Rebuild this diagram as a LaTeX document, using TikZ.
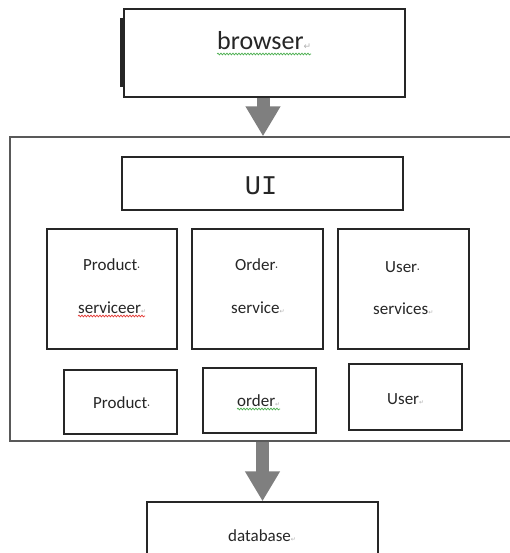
\documentclass[tikz,border=0pt]{standalone}
\usepackage{fontspec}
\setmainfont{Carlito}
\newfontfamily\uifont{Liberation Mono}
\newfontfamily\symfont{DejaVu Sans}
\usetikzlibrary{arrows.meta,decorations.pathmorphing}
\definecolor{arrowgray}{HTML}{7F7F7F}
\definecolor{boxline}{HTML}{262626}
\definecolor{frameline}{HTML}{595959}
\definecolor{markgray}{HTML}{B0B0B0}
\definecolor{wavygreen}{HTML}{4CAF50}
\definecolor{wavyred}{HTML}{E53935}
\newcommand{\pmark}{\textcolor{markgray}{\symfont\fontsize{6}{6}\selectfont ↵}}
\newcommand{\smark}{\textcolor{boxline}{\fontsize{10}{10}\selectfont ·}}
\begin{document}
\begin{tikzpicture}[x=1pt,y=-1pt,
  box/.style={draw=boxline,line width=1.4pt,inner sep=0pt,fill=white},
  frame/.style={draw=frameline,line width=1.4pt,inner sep=0pt},
  lbl/.style={inner sep=0pt,anchor=base west,text=boxline,font=\fontsize{17}{17}\selectfont},
  bigarrow/.style={draw=arrowgray,line width=13pt,-{Triangle[width=33pt,length=30pt]}},
  wavy/.style={line width=0.7pt,decorate,decoration={snake,amplitude=0.9pt,segment length=3pt}}]
\useasboundingbox (0,0) rectangle (509,553);
\fill[white] (0,0) rectangle (509,553);

% outer frame (right edge runs past the picture)
\node[frame,minimum width=505pt,minimum height=304pt] (container) at (262.5,289) {};

% browser
\node[box,minimum width=281pt,minimum height=88pt] (browser) at (264.5,53) {};
\draw[boxline,line width=2.5pt] (121.5,18) -- (121.5,87);
\node[lbl,font=\fontsize{26}{26}\selectfont] (tbrowser) at (217,50) {browser\textcolor{markgray}{\symfont\fontsize{9}{9}\selectfont ↵}};
\draw[wavy,wavygreen] (217,54) -- (311,54);

% UI
\node[box,minimum width=281pt,minimum height=53pt] (ui) at (262.5,183.5) {};
\node[inner sep=0pt,anchor=base,text=boxline,font=\uifont\fontsize{27}{27}\selectfont] (tui) at (261,195) {UI};

% services
\node[box,minimum width=130pt,minimum height=120pt] (ps) at (112,289) {};
\node[box,minimum width=131pt,minimum height=120pt] (os) at (257.5,289) {};
\node[box,minimum width=131pt,minimum height=120pt] (us) at (403.5,289) {};
\node[lbl] (tps1) at (83,270) {Product\smark};
\node[lbl] (tps2) at (78,313) {serviceer\pmark};
\draw[wavy,wavyred] (78,316) -- (145,316);
\node[lbl] (tos1) at (235,270) {Order\smark};
\node[lbl] (tos2) at (231,313) {service\pmark};
\node[lbl] (tus1) at (385,272) {User\smark};
\node[lbl] (tus2) at (373,314) {services\pmark};

% entities
\node[box,minimum width=113pt,minimum height=64pt] (pe) at (120.5,402) {};
\node[box,minimum width=113pt,minimum height=65pt] (oe) at (259.5,400.5) {};
\node[box,minimum width=113pt,minimum height=66pt] (ue) at (405.5,397) {};
\node[lbl] (tpe) at (93,408) {Product\smark};
\node[lbl] (toe) at (237,406) {order\pmark};
\draw[wavy,wavygreen] (237,409) -- (280,409);
\node[lbl] (tue) at (387,404) {User\pmark};

% database (bottom edge runs past the picture)
\node[box,minimum width=231pt,minimum height=63pt] (db) at (262.5,533.5) {};
\node[lbl] (tdb) at (228,541) {database\pmark};

% arrows
\draw[bigarrow] (browser.south -| 263,0) -- (container.north -| 263,0);
\draw[bigarrow] (container.south -| db.north) -- (db.north);
\end{tikzpicture}
\end{document}
